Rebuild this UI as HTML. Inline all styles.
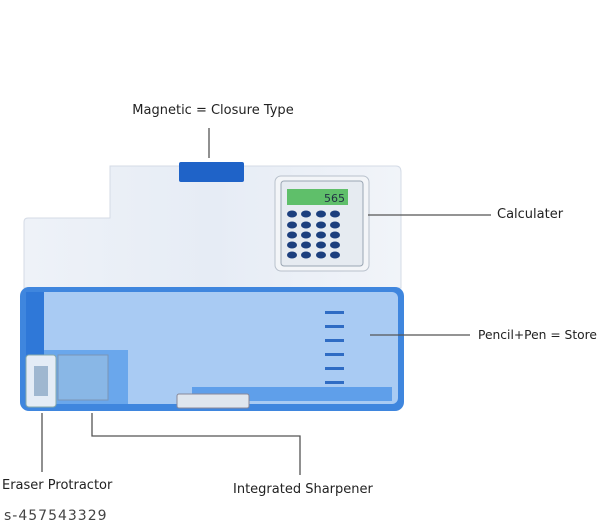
<!DOCTYPE html>
<html><head><style>body{margin:0;background:#fff}svg{display:block}text{font-family:"DejaVu Sans","Liberation Sans",sans-serif;fill:#222}</style></head><body>
<svg width="600" height="527" viewBox="0 0 600 527">
<defs>
<linearGradient id="lid" x1="0" y1="0" x2="1" y2="0"><stop offset="0" stop-color="#eef2f8"/><stop offset="0.5" stop-color="#e6ecf5"/><stop offset="1" stop-color="#f1f4f9"/></linearGradient>
</defs>
<path d="M110,166 H396 Q401,166 401,172 V288 H24 V222 Q24,218 28,218 H110 Z" fill="url(#lid)" stroke="#d4dbe6"/>
<rect x="179" y="162" width="65" height="20" rx="2" fill="#1f63c8"/>
<rect x="275" y="176" width="94" height="95" rx="6" fill="#f3f5f8" stroke="#b9c1cc"/>
<rect x="281" y="181" width="82" height="85" rx="3" fill="#e6ebf1" stroke="#9aa6b3"/>
<rect x="287" y="189" width="61" height="16" fill="#5fbf6a"/>
<text x="345" y="202" font-size="11" text-anchor="end" style="fill:#234">565</text>
<g fill="#1c3f7e">
<ellipse cx="292" cy="214" rx="5" ry="3.5"/><ellipse cx="306" cy="214" rx="5" ry="3.5"/><ellipse cx="321" cy="214" rx="5" ry="3.5"/><ellipse cx="335" cy="214" rx="5" ry="3.5"/>
<ellipse cx="292" cy="225" rx="5" ry="3.5"/><ellipse cx="306" cy="225" rx="5" ry="3.5"/><ellipse cx="321" cy="225" rx="5" ry="3.5"/><ellipse cx="335" cy="225" rx="5" ry="3.5"/>
<ellipse cx="292" cy="235" rx="5" ry="3.5"/><ellipse cx="306" cy="235" rx="5" ry="3.5"/><ellipse cx="321" cy="235" rx="5" ry="3.5"/><ellipse cx="335" cy="235" rx="5" ry="3.5"/>
<ellipse cx="292" cy="245" rx="5" ry="3.5"/><ellipse cx="306" cy="245" rx="5" ry="3.5"/><ellipse cx="321" cy="245" rx="5" ry="3.5"/><ellipse cx="335" cy="245" rx="5" ry="3.5"/>
<ellipse cx="292" cy="255" rx="5" ry="3.5"/><ellipse cx="306" cy="255" rx="5" ry="3.5"/><ellipse cx="321" cy="255" rx="5" ry="3.5"/><ellipse cx="335" cy="255" rx="5" ry="3.5"/>
</g>
<rect x="20" y="287" width="384" height="124" rx="9" fill="#3f86de"/>
<rect x="26" y="292" width="372" height="112" rx="6" fill="#a9cbf3"/>
<rect x="26" y="292" width="18" height="112" fill="#2f78d8"/>
<rect x="44" y="350" width="84" height="54" fill="#6aa7ec"/>
<rect x="26" y="355" width="30" height="52" rx="3" fill="#e4ecf6" stroke="#8aa"/>
<rect x="34" y="366" width="14" height="30" fill="#9fb7d0"/>
<rect x="58" y="355" width="50" height="45" fill="#89b7e6" stroke="#7a96b6"/>
<rect x="192" y="387" width="200" height="14" fill="#5f9fea"/>
<rect x="177" y="394" width="72" height="14" rx="2" fill="#dfe6ee" stroke="#889"/>
<g fill="#2f6cc4"><rect x="325" y="311" width="19" height="3"/><rect x="325" y="325" width="19" height="3"/><rect x="325" y="339" width="19" height="3"/><rect x="325" y="353" width="19" height="3"/><rect x="325" y="367" width="19" height="3"/><rect x="325" y="381" width="19" height="3"/></g>
<g stroke="#555" stroke-width="1.3" fill="none">
<line x1="209" y1="128" x2="209" y2="158"/>
<line x1="368" y1="215" x2="491" y2="215"/>
<line x1="370" y1="335" x2="470" y2="335"/>
<line x1="42" y1="413" x2="42" y2="472"/>
<polyline points="92,413 92,436 300,436 300,475"/>
</g>
<text x="213" y="114" font-size="13" text-anchor="middle">Magnetic = Closure Type</text>
<text x="497" y="218" font-size="13">Calculater</text>
<text x="478" y="339" font-size="12.5" textLength="119" lengthAdjust="spacingAndGlyphs">Pencil+Pen = Store</text>
<text x="2" y="489" font-size="13">Eraser Protractor</text>
<text x="233" y="493" font-size="13">Integrated Sharpener</text>
<text x="4" y="520" font-size="14" style="fill:#444;letter-spacing:1px">s-457543329</text>
</svg>
</body></html>
